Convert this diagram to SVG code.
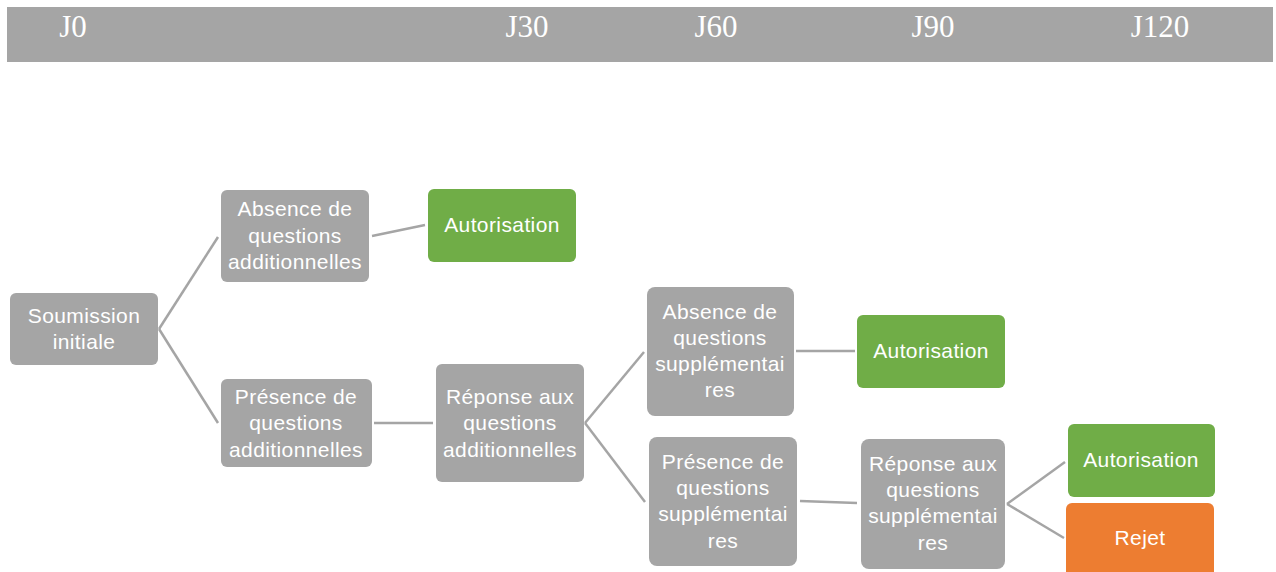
<svg xmlns="http://www.w3.org/2000/svg" width="1276" height="572" viewBox="0 0 1276 572">
<style>
.g{fill:#A5A5A5}
.gr{fill:#70AD47}
.or{fill:#ED7D31}
.t{font-family:"Liberation Sans",Arial,sans-serif;font-size:21px;letter-spacing:0.4px;fill:#fff;text-anchor:middle}
.h{font-family:"Liberation Serif","Times New Roman",serif;font-size:31px;fill:#fff;text-anchor:middle}
.c line{stroke:#A5A5A5;stroke-width:2.5;fill:none}
</style>
<g id="timeline">
<rect x="7" y="7" width="1266" height="55" class="g"/>
<text class="h" x="73" y="37">J0</text>
<text class="h" x="527" y="37">J30</text>
<text class="h" x="716" y="37">J60</text>
<text class="h" x="933" y="37">J90</text>
<text class="h" x="1160" y="37">J120</text>
</g>
<g class="c" id="connectors">
<line x1="159" y1="329" x2="218" y2="237"/>
<line x1="159" y1="329" x2="218" y2="423"/>
<line x1="372" y1="236" x2="425" y2="225"/>
<line x1="374" y1="423" x2="433" y2="423"/>
<line x1="585" y1="423" x2="644" y2="352"/>
<line x1="585" y1="423" x2="645" y2="502"/>
<line x1="796" y1="351" x2="855" y2="351"/>
<line x1="800" y1="501" x2="857" y2="503"/>
<line x1="1007" y1="504" x2="1065" y2="462"/>
<line x1="1007" y1="504" x2="1064" y2="538"/>
</g>
<g id="soumission">
<rect x="10" y="293" width="148" height="72" rx="6" class="g"/>
<text class="t" x="84" y="323">Soumission</text>
<text class="t" x="84" y="349">initiale</text>
</g>
<g id="absence-add">
<rect x="221" y="190" width="148" height="92" rx="6" class="g"/>
<text class="t" x="295" y="216">Absence de</text>
<text class="t" x="295" y="243">questions</text>
<text class="t" x="295" y="269">additionnelles</text>
</g>
<g id="autorisation1">
<rect x="428" y="189" width="148" height="73" rx="6" class="gr"/>
<text class="t" x="502" y="232">Autorisation</text>
</g>
<g id="presence-add">
<rect x="221" y="379" width="151" height="88" rx="6" class="g"/>
<text class="t" x="296" y="404">Présence de</text>
<text class="t" x="296" y="430">questions</text>
<text class="t" x="296" y="457">additionnelles</text>
</g>
<g id="reponse-add">
<rect x="436" y="364" width="148" height="118" rx="6" class="g"/>
<text class="t" x="510" y="404">Réponse aux</text>
<text class="t" x="510" y="430">questions</text>
<text class="t" x="510" y="457">additionnelles</text>
</g>
<g id="absence-supp">
<rect x="647" y="287" width="147" height="129" rx="8" class="g"/>
<text class="t" x="720" y="319">Absence de</text>
<text class="t" x="720" y="345">questions</text>
<text class="t" x="720" y="371">supplémentai</text>
<text class="t" x="720" y="397">res</text>
</g>
<g id="autorisation2">
<rect x="857" y="315" width="148" height="73" rx="6" class="gr"/>
<text class="t" x="931" y="358">Autorisation</text>
</g>
<g id="presence-supp">
<rect x="649" y="437" width="148" height="129" rx="8" class="g"/>
<text class="t" x="723" y="469">Présence de</text>
<text class="t" x="723" y="495">questions</text>
<text class="t" x="723" y="521">supplémentai</text>
<text class="t" x="723" y="548">res</text>
</g>
<g id="reponse-supp">
<rect x="861" y="439" width="144" height="130" rx="8" class="g"/>
<text class="t" x="933" y="471">Réponse aux</text>
<text class="t" x="933" y="497">questions</text>
<text class="t" x="933" y="523">supplémentai</text>
<text class="t" x="933" y="550">res</text>
</g>
<g id="autorisation3">
<rect x="1068" y="424" width="147" height="73" rx="6" class="gr"/>
<text class="t" x="1141" y="467">Autorisation</text>
</g>
<g id="rejet">
<rect x="1066" y="503" width="148" height="80" rx="6" class="or"/>
<text class="t" x="1140" y="545">Rejet</text>
</g>
</svg>
